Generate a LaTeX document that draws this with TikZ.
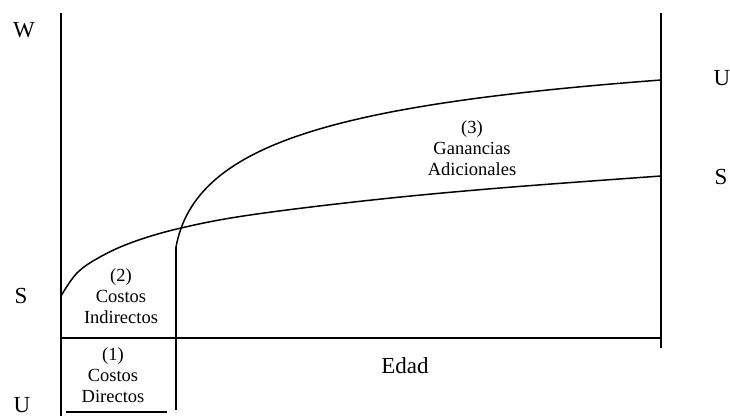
\documentclass[tikz,border=0pt]{standalone}
\usepackage{fontspec}
\setmainfont{Liberation Serif}
\begin{document}
\begin{tikzpicture}[x=1pt,y=-1pt,
  axisline/.style={line width=1.5pt},
  curve/.style={line width=1.5pt},
  biglabel/.style={font=\fontsize{23}{27}\selectfont, inner sep=0pt},
  smalllabel/.style={font=\fontsize{18.5}{21}\selectfont, align=center, inner sep=0pt}]
\useasboundingbox (0,0) rectangle (730,416);
% axes and frame
\coordinate (Ltop) at (61,13);
\coordinate (Lbot) at (61,416);
\coordinate (Hl) at (61,338);
\coordinate (Hr) at (661,338);
\coordinate (Rtop) at (661,13);
\coordinate (Rbot) at (661,348);
\coordinate (Mtop) at (176,247);
\coordinate (Mbot) at (176,410);
\coordinate (Bl) at (66,412);
\coordinate (Br) at (167,412);
\coordinate (Sstart) at (61,296);
\coordinate (Send) at (661,176);
\coordinate (Uend) at (661,80);
\draw[axisline] (Ltop) -- (Lbot);
\draw[axisline] (Hl) -- (Hr);
\draw[axisline] (Rtop) -- (Rbot);
\draw[axisline] (Mtop) -- (Mbot);
\draw[axisline] (Bl) -- (Br);
% S curve
\draw[curve] plot[smooth, tension=0.6] coordinates {(61,296) (77,273) (100,257) (133,242) (181,228) (250,215) (372,200) (500,188) (661,176)};
% U curve
\draw[curve] (Mtop) .. controls (195,145) and (330,105) .. (Uend);
% labels
\node[biglabel] (W) at (24,30) {W};
\node[biglabel] (Sl) at (21,296) {S};
\node[biglabel] (Ul) at (22,405) {U};
\node[biglabel] (Ur) at (722,78) {U};
\node[biglabel] (Sr) at (721,177) {S};
\node[biglabel] (edad) at (405,366) {Edad};
\node[smalllabel] (ci) at (121,296) {(2)\\Costos\\Indirectos};
\node[smalllabel] (cd) at (113,375) {(1)\\Costos\\Directos};
\node[smalllabel] (ga) at (472,148) {(3)\\Ganancias\\Adicionales};
\end{tikzpicture}
\end{document}
